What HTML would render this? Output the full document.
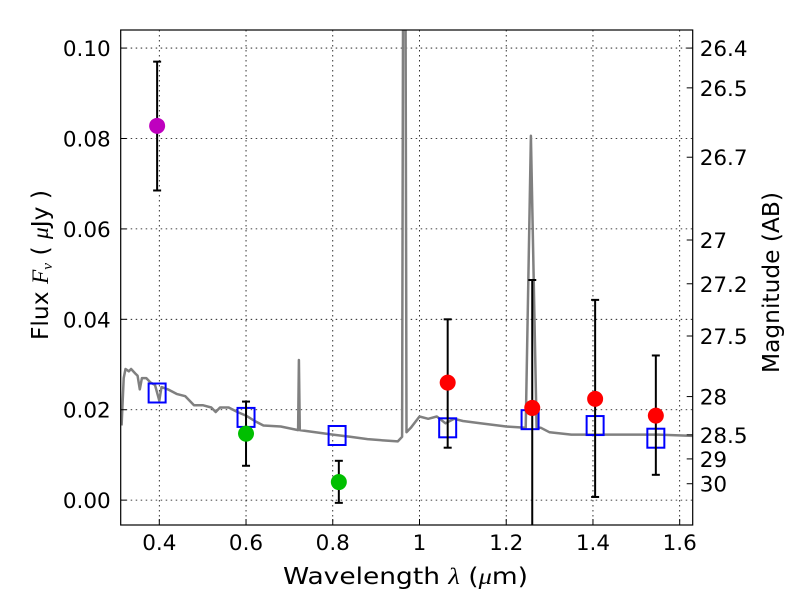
<!DOCTYPE html>
<html><head><meta charset="utf-8"><style>
html,body{margin:0;padding:0;background:#fff;}
svg text{font-family:"DejaVu Sans","Liberation Sans",sans-serif;fill:#000;}
</style></head><body>
<svg id="chart" width="800" height="600" xmlns="http://www.w3.org/2000/svg">
<rect x="0" y="0" width="800" height="600" fill="#fff"/>
<g id="grid"></g>
<g id="spec"></g>
<g id="marks"></g>
<rect x="120.7" y="30" width="572" height="495" fill="none" stroke="#000" stroke-width="1.2"/>
<g id="axes"></g>
<text x="283" y="584" font-size="23" textLength="245" lengthAdjust="spacingAndGlyphs">Wavelength  <tspan font-style="italic" font-family="Liberation Serif">λ</tspan> (<tspan font-style="italic" font-family="Liberation Serif">μ</tspan>m)</text>
<text transform="translate(48,340) rotate(-90)" font-size="23" textLength="150" lengthAdjust="spacingAndGlyphs">Flux  <tspan font-style="italic" font-family="Liberation Serif">F</tspan><tspan font-style="italic" font-family="Liberation Serif" font-size="15" dy="4">ν</tspan><tspan dy="-4">  ( </tspan><tspan font-style="italic" font-family="Liberation Serif">μ</tspan>Jy )</text>
<text transform="translate(779,373) rotate(-90)" font-size="23" textLength="181" lengthAdjust="spacingAndGlyphs">Magnitude (AB)</text>
</svg>
<script>
const xTicks=[0.4,0.6,0.8,1.0,1.2,1.4,1.6];
const xTickLabels=["0.4","0.6","0.8","1","1.2","1.4","1.6"];
const yTicks=[0,0.02,0.04,0.06,0.08,0.10];
const yTickLabels=["0.00","0.02","0.04","0.06","0.08","0.10"];
const magTicks=[26.4,26.5,26.7,27,27.2,27.5,28,28.5,29,30];
const magLabels=["26.4","26.5","26.7","27","27.2","27.5","28","28.5","29","30"];
const specWave=[0.313,0.318,0.322,0.33,0.335,0.345,0.35,0.355,0.36,0.37,0.38,0.39,0.4,0.405,0.42,0.44,0.46,0.48,0.5,0.52,0.53,0.54,0.56,0.58,0.6,0.62,0.64,0.68,0.72,0.722,0.724,0.76,0.8,0.84,0.88,0.92,0.95,0.96,0.962,0.968,0.97,0.98,1.0,1.02,1.04,1.06,1.08,1.1,1.14,1.2,1.245,1.257,1.27,1.28,1.3,1.35,1.45,1.55,1.63];
const specFlux=[0.0165,0.027,0.029,0.0285,0.029,0.028,0.0275,0.0245,0.027,0.027,0.026,0.0255,0.022,0.025,0.0245,0.0235,0.023,0.021,0.021,0.0205,0.0195,0.0205,0.0205,0.0195,0.0187,0.0175,0.0165,0.0163,0.0155,0.031,0.0155,0.015,0.0145,0.014,0.0135,0.0132,0.013,0.014,0.104,0.104,0.015,0.016,0.0185,0.018,0.0185,0.017,0.018,0.0175,0.017,0.0163,0.016,0.0806,0.016,0.016,0.015,0.0145,0.0145,0.0145,0.0142];
const obsWave=[0.395,0.6,0.814,1.065,1.26,1.405,1.545];
const obsFlux=[0.0828,0.0147,0.004,0.026,0.0204,0.0224,0.0187];
const obsErrHi=[0.097,0.0218,0.0087,0.040,0.0487,0.0443,0.032];
const obsErrLo=[0.0685,0.0076,-0.0006,0.0116,-0.01,0.0007,0.0056];
const obsColor=["#bf00bf","#00bf00","#00bf00","#ff0000","#ff0000","#ff0000","#ff0000"];
const modelWave=[0.395,0.6,0.81,1.065,1.255,1.405,1.545];
const modelFlux=[0.0237,0.0183,0.0143,0.016,0.0178,0.0165,0.0137];

const L=120.7,R=692.7,T=30,B=525;
const xmin=0.311,xmax=1.630,ymin=-0.0055,ymax=0.104;
const X=v=>L+(v-xmin)/(xmax-xmin)*(R-L);
const Y=v=>B-(v-ymin)/(ymax-ymin)*(B-T);
const NS="http://www.w3.org/2000/svg";
function mk(tag,parent,attrs){const e=document.createElementNS(NS,tag);for(const k in attrs)e.setAttribute(k,attrs[k]);parent.appendChild(e);return e;}
const grid=document.getElementById('grid'),axes=document.getElementById('axes'),spec=document.getElementById('spec'),marks=document.getElementById('marks');
xTicks.forEach((t,i)=>{
  const x=X(t);
  const g=mk('line',grid,{x1:x,x2:x,y1:T,y2:B,stroke:'#000','stroke-width':0.8,'stroke-dasharray':'1.5,3.5'});
  
  const tk=mk('line',axes,{x1:x,x2:x,y1:B,y2:B-6,stroke:'#000'});
  
  const lb=mk('text',axes,{x:x,y:B+25,'font-size':21.5,'text-anchor':'middle'});lb.textContent=xTickLabels[i];
  
});
yTicks.forEach((t,i)=>{
  const y=Y(t);
  const g=mk('line',grid,{x1:L,x2:R,y1:y,y2:y,stroke:'#000','stroke-width':0.8,'stroke-dasharray':'1.5,3.5'});
  
  const tk=mk('line',axes,{x1:L,x2:L+6,y1:y,y2:y,stroke:'#000'});
  
  const lb=mk('text',axes,{x:L-10,y:y+8,'font-size':21.5,'text-anchor':'end'});lb.textContent=yTickLabels[i];
  
});
magTicks.forEach((m,i)=>{
  const y=Y(Math.pow(10,(23.9-m)/2.5));
  const tk=mk('line',axes,{x1:R-6,x2:R,y1:y,y2:y,stroke:'#000'});
  
  const lb=mk('text',axes,{x:R+7,y:y+8,'font-size':21.5});lb.textContent=magLabels[i];
  
});
const pts=specWave.map((w,i)=>X(w).toFixed(1)+','+Y(specFlux[i]).toFixed(1)).join(' ');
const cp=mk('clipPath',spec,{id:'clip'});mk('rect',cp,{x:L,y:T,width:R-L,height:B-T});
const pl=mk('polyline',spec,{points:pts,fill:'none',stroke:'#808080','stroke-width':2.5,'stroke-linejoin':'round','clip-path':'url(#clip)'});

modelWave.forEach((w,i)=>{
  const s=mk('rect',marks,{x:X(w)-8.5,y:Y(modelFlux[i])-9.5,width:17,height:19,fill:'none',stroke:'#0000ff','stroke-width':2});
  
});
obsWave.forEach((w,i)=>{
  const x=X(w),yh=Y(obsErrHi[i]),yl=Math.min(Y(obsErrLo[i]),B);
  const eb=mk('line',marks,{x1:x,x2:x,y1:yh,y2:yl,stroke:'#000','stroke-width':2,'clip-path':'url(#clip)'});
  
  [yh,Y(obsErrLo[i])].forEach(yc=>{if(yc<B){const c=mk('line',marks,{x1:x-4,x2:x+4,y1:yc,y2:yc,stroke:'#000','stroke-width':2});
    }});
  const d=mk('circle',marks,{cx:x,cy:Y(obsFlux[i]),r:8,fill:obsColor[i]});
  
});
</script>
</body></html>
